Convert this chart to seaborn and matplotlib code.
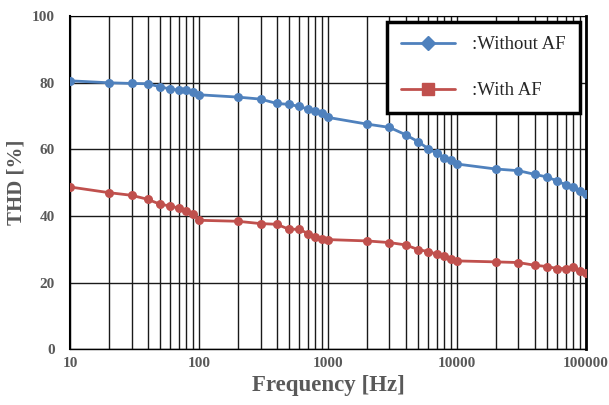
import numpy as np
import pandas as pd
import matplotlib
matplotlib.use("Agg")
import matplotlib.pyplot as plt
from matplotlib.lines import Line2D
from matplotlib.ticker import FixedLocator, NullFormatter
import seaborn as sns

# frequency points (Hz)
freq = [10, 20, 30, 40, 50, 60, 70, 80, 90,
        100, 200, 300, 400, 500, 600, 700, 800, 900,
        1000, 2000, 3000, 4000, 5000, 6000, 7000, 8000, 9000,
        10000, 20000, 30000, 40000, 50000, 60000, 70000, 80000, 90000,
        100000]

# THD [%]
thd_without_af = [80.6, 80.0, 79.8, 79.7, 78.8, 78.1, 77.8, 77.8, 77.3,
                  76.4, 75.7, 75.1, 73.8, 73.5, 72.9, 72.1, 71.6, 70.9,
                  69.6, 67.6, 66.6, 64.4, 62.3, 60.2, 58.8, 57.5, 56.8,
                  55.6, 54.1, 53.6, 52.5, 51.7, 50.5, 49.3, 48.6, 47.5,
                  46.5]
thd_with_af = [48.7, 47.0, 46.2, 45.0, 43.5, 43.0, 42.3, 41.6, 40.5,
               38.7, 38.4, 37.7, 37.5, 36.0, 36.0, 34.7, 33.7, 33.2,
               32.9, 32.5, 32.0, 31.3, 29.9, 29.3, 28.5, 28.1, 27.1,
               26.5, 26.2, 26.0, 25.2, 24.8, 24.2, 24.2, 24.8, 23.5,
               23.0]

series_names = [":Without AF", ":With AF"]
colors = {":Without AF": "#4F81BD", ":With AF": "#C0504D"}

df = pd.DataFrame({
    "Frequency": freq * 2,
    "THD": thd_without_af + thd_with_af,
    "Series": [series_names[0]] * len(freq) + [series_names[1]] * len(freq),
})

sns.set_style("white")
plt.rcParams["font.family"] = ["Liberation Serif", "DejaVu Serif"]

fig = plt.figure(figsize=(6.09, 4.05), dpi=100)
ax = fig.add_axes([0.115, 0.138, 0.847, 0.822])

sns.lineplot(data=df, x="Frequency", y="THD", hue="Series", palette=colors,
             marker="o", markersize=6.5, markeredgewidth=0, linewidth=2,
             ax=ax, legend=False, zorder=3)

ax.set_xscale("log")
ax.set_xlim(10, 100000)
ax.set_ylim(0, 100)
ax.set_yticks(range(0, 101, 20))
ax.xaxis.set_major_locator(FixedLocator([10, 100, 1000, 10000, 100000]))
ax.xaxis.set_minor_locator(FixedLocator([f for f in freq if f not in (10, 100, 1000, 10000, 100000)]))
ax.xaxis.set_minor_formatter(NullFormatter())
ax.set_xticklabels(["10", "100", "1000", "10000", "100000"])

ax.grid(True, which="major", axis="both", color="#1a1a1a", linewidth=1)
ax.grid(True, which="minor", axis="x", color="#1a1a1a", linewidth=1)
ax.set_axisbelow(True)

for side in ["top", "right", "left", "bottom"]:
    ax.spines[side].set_color("black")
ax.spines["right"].set_linewidth(2)
ax.spines["left"].set_linewidth(1.5)
ax.spines["bottom"].set_linewidth(1)

ax.tick_params(axis="y", which="major", length=5, color="black", width=1,
               labelsize=11, labelcolor="#595959", pad=6)
ax.tick_params(axis="x", which="both", length=0, labelsize=11,
               labelcolor="#595959", pad=6)
for lab in ax.get_xticklabels() + ax.get_yticklabels():
    lab.set_fontweight("bold")

ax.set_xlabel("Frequency [Hz]", fontsize=16.5, fontweight="bold", color="#595959", labelpad=3)
ax.set_ylabel("THD [%]", fontsize=15, fontweight="bold", color="#595959", labelpad=4)

handles = [
    Line2D([0], [0], color=colors[series_names[0]], lw=2, marker="D", markersize=7),
    Line2D([0], [0], color=colors[series_names[1]], lw=2, marker="s", markersize=8),
]
leg = fig.legend(handles, series_names, loc="upper left",
                 bbox_to_anchor=(387 / 609, 1 - 22 / 405),
                 frameon=True, fancybox=False, fontsize=13.5,
                 handlelength=2.9, labelspacing=1.55, borderpad=0.75,
                 handletextpad=0.9, borderaxespad=0)
leg.get_frame().set_edgecolor("black")
leg.get_frame().set_linewidth(2.5)
leg.get_frame().set_facecolor("white")
leg.get_frame().set_alpha(1)

fig.savefig("out.png", dpi=100)
